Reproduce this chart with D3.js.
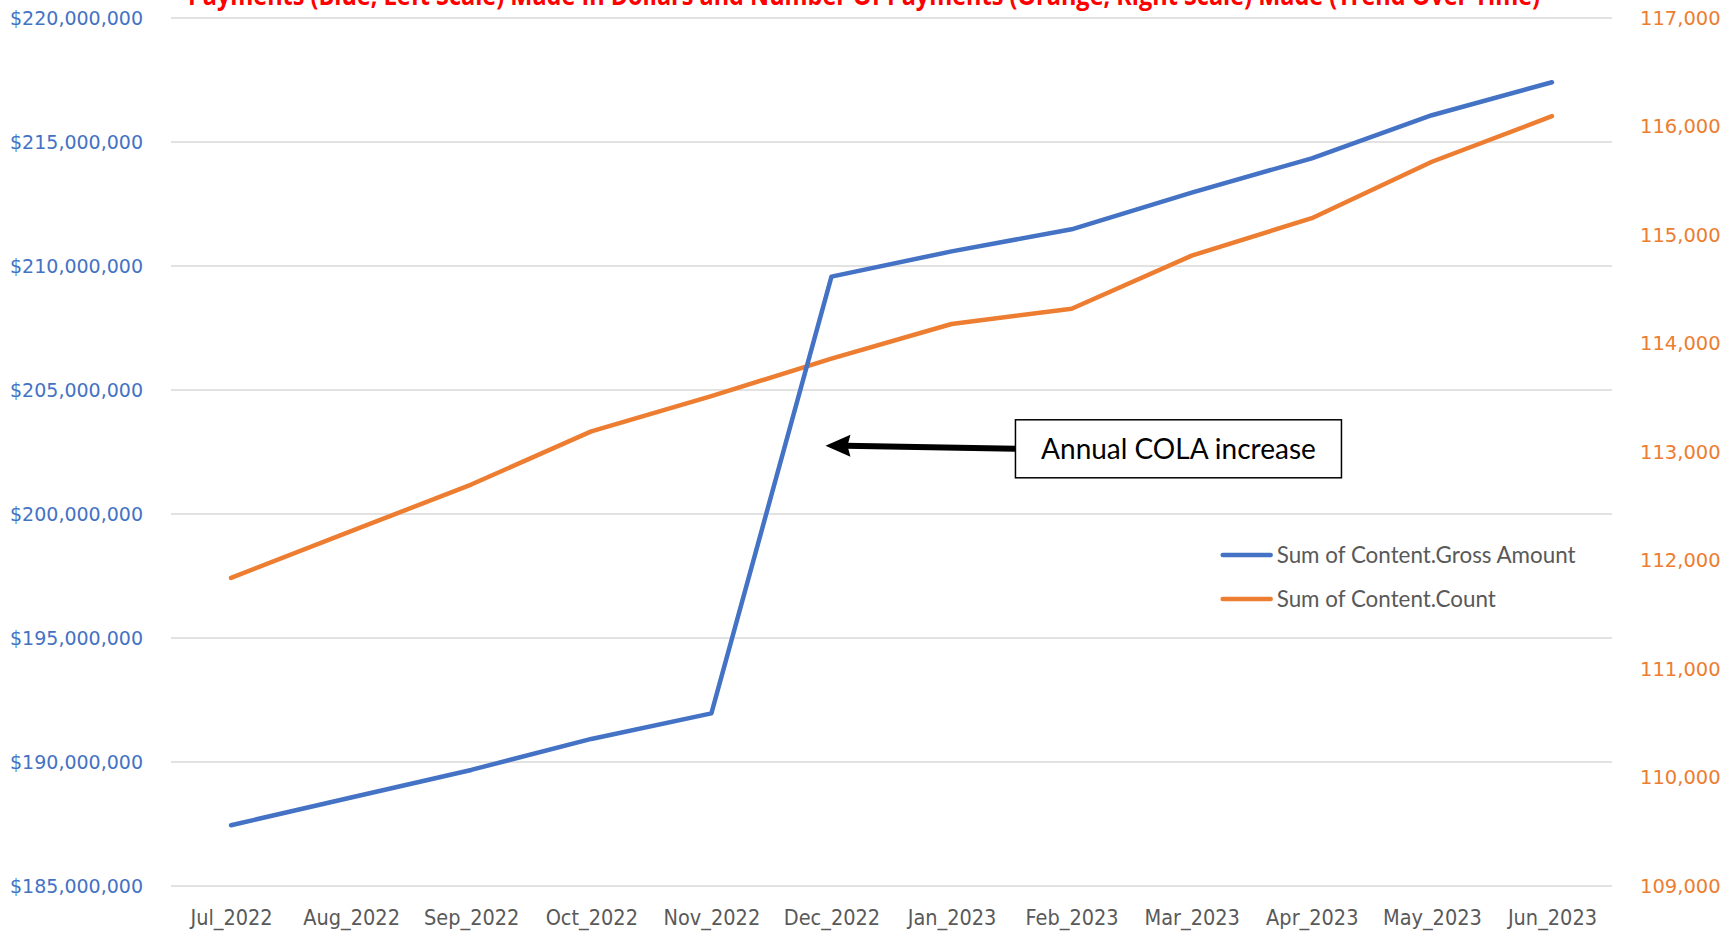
<!DOCTYPE html>
<html>
<head>
<meta charset="utf-8">
<script src="https://cdn.jsdelivr.net/npm/d3@7"></script>
<style>
  html, body { margin: 0; padding: 0; background: #fff; }
  svg { display: block; }
</style>
</head>
<body>
<svg id="chart"></svg>
<script>
(() => {

  const months = ['Jul_2022', 'Aug_2022', 'Sep_2022', 'Oct_2022', 'Nov_2022', 'Dec_2022',
    'Jan_2023', 'Feb_2023', 'Mar_2023', 'Apr_2023', 'May_2023', 'Jun_2023'];
  const grossAmount = [187450000, 188570000, 189680000, 190930000, 191960000, 209570000,
    210590000, 211480000, 212960000, 214340000, 216080000, 217410000];
  const paymentCount = [111840, 112270, 112700, 113190, 113515, 113860,
    114180, 114320, 114810, 115155, 115675, 116095];
  const leftTicks = [185e6, 190e6, 195e6, 200e6, 205e6, 210e6, 215e6, 220e6];
  const rightTicks = [109000, 110000, 111000, 112000, 113000, 114000, 115000, 116000, 117000];
  const seriesNames = ['Sum of Content.Gross Amount', 'Sum of Content.Count'];
  const titleText = 'Payments (Blue, Left Scale) Made In Dollars and Number Of Payments (Orange, Right Scale) Made (Trend Over Time)';
  const noteText = 'Annual COLA increase';

  const svgWidth = 1734;
  const svgHeight = 933;
  const margin = { top: 18, left: 171, right: 122, bottom: 47 };
  const width = svgWidth - (margin.left + margin.right);
  const height = svgHeight - (margin.top + margin.bottom);

  const blue = '#4472C4';
  const orange = '#ED7D31';

  const svg = d3.select('#chart')
    .attr('width', svgWidth)
    .attr('height', svgHeight);

  const g = svg.append('g')
    .attr('transform', `translate(${margin.left}, ${margin.top})`);

  const xScale = d3.scalePoint()
    .domain(months)
    .range([0, width])
    .padding(0.5);

  const yLeft = d3.scaleLinear()
    .domain([185e6, 220e6])
    .range([height, 0]);

  const yRight = d3.scaleLinear()
    .domain([109000, 117000])
    .range([height, 0]);

  // gridlines (left scale)
  g.append('g')
    .selectAll('line')
    .data(leftTicks)
    .enter()
    .append('line')
    .attr('x1', 0)
    .attr('x2', width)
    .attr('y1', d => yLeft(d))
    .attr('y2', d => yLeft(d))
    .attr('stroke', '#D9D9D9')
    .attr('stroke-width', 1.5);

  // left axis
  const leftAxis = g.append('g')
    .call(d3.axisLeft(yLeft).tickValues(leftTicks).tickSize(0).tickPadding(28)
      .tickFormat(d => '$' + d3.format(',')(d)));
  leftAxis.select('.domain').remove();
  leftAxis.selectAll('text')
    .attr('fill', blue)
    .attr('font-family', 'DejaVu Sans')
    .attr('font-size', 19);

  // right axis
  const rightAxis = g.append('g')
    .attr('transform', `translate(${width}, 0)`)
    .call(d3.axisRight(yRight).tickValues(rightTicks).tickSize(0).tickPadding(28)
      .tickFormat(d3.format(',')));
  rightAxis.select('.domain').remove();
  rightAxis.selectAll('text')
    .attr('fill', orange)
    .attr('font-family', 'DejaVu Sans')
    .attr('font-size', 19.5);

  // bottom axis
  const bottomAxis = g.append('g')
    .attr('transform', `translate(0, ${height})`)
    .call(d3.axisBottom(xScale).tickSize(0).tickPadding(24));
  bottomAxis.select('.domain').remove();
  bottomAxis.selectAll('text')
    .attr('fill', '#595959')
    .attr('font-family', 'DejaVu Sans Condensed, DejaVu Sans')
    .attr('font-stretch', 'condensed')
    .attr('font-size', 21.5);

  const lineLeft = d3.line()
    .x((d, i) => xScale(months[i]))
    .y(d => yLeft(d));

  const lineRight = d3.line()
    .x((d, i) => xScale(months[i]))
    .y(d => yRight(d));

  g.append('path')
    .datum(paymentCount)
    .attr('fill', 'none')
    .attr('stroke', orange)
    .attr('stroke-width', 4.5)
    .attr('stroke-linejoin', 'round')
    .attr('stroke-linecap', 'round')
    .attr('d', lineRight);

  g.append('path')
    .datum(grossAmount)
    .attr('fill', 'none')
    .attr('stroke', blue)
    .attr('stroke-width', 4.5)
    .attr('stroke-linejoin', 'round')
    .attr('stroke-linecap', 'round')
    .attr('d', lineLeft);

  // title, cut off at the top edge
  svg.append('text')
    .attr('x', 188)
    .attr('y', 5)
    .attr('fill', '#FF0000')
    .attr('font-family', 'Open Sans')
    .attr('font-weight', 'bold')
    .attr('font-size', 26)
    .attr('textLength', 1352)
    .attr('lengthAdjust', 'spacingAndGlyphs')
    .text(titleText);

  // legend
  const legend = g.append('g')
    .attr('transform', `translate(${xScale('Mar_2023') + 29}, ${yLeft(198.35e6)})`);
  const legendItems = legend.selectAll('g')
    .data(seriesNames)
    .enter()
    .append('g')
    .attr('transform', (d, i) => `translate(0, ${i * 44})`);
  legendItems.append('line')
    .attr('x1', 2)
    .attr('x2', 50)
    .attr('stroke', (d, i) => i === 0 ? blue : orange)
    .attr('stroke-width', 4.5)
    .attr('stroke-linecap', 'round');
  legendItems.append('text')
    .attr('x', 56)
    .attr('dy', '0.35em')
    .attr('fill', '#595959')
    .attr('font-family', 'Lato')
    .attr('font-size', 22.4)
    .text(d => d);

  // annotation
  const tipX = xScale('Dec_2022') - 6;
  const tipY = yLeft(202.75e6);
  const boxX = tipX + 190;
  const boxY = tipY - 26;
  const note = g.append('g');
  note.append('line')
    .attr('x1', boxX)
    .attr('y1', tipY + 3)
    .attr('x2', tipX + 20)
    .attr('y2', tipY)
    .attr('stroke', '#000')
    .attr('stroke-width', 6);
  note.append('path')
    .attr('d', `M${tipX},${tipY} L${tipX + 25},${tipY - 11} L${tipX + 22},${tipY} L${tipX + 25},${tipY + 11} Z`)
    .attr('fill', '#000');
  note.append('rect')
    .attr('x', boxX)
    .attr('y', boxY)
    .attr('width', 326)
    .attr('height', 58)
    .attr('fill', '#fff')
    .attr('stroke', '#000')
    .attr('stroke-width', 1.5);
  note.append('text')
    .attr('x', boxX + 163)
    .attr('y', boxY + 29)
    .attr('dy', '0.35em')
    .attr('text-anchor', 'middle')
    .attr('fill', '#000')
    .attr('font-family', 'Lato')
    .attr('font-size', 28)
    .text(noteText);

})();
</script>
</body>
</html>
